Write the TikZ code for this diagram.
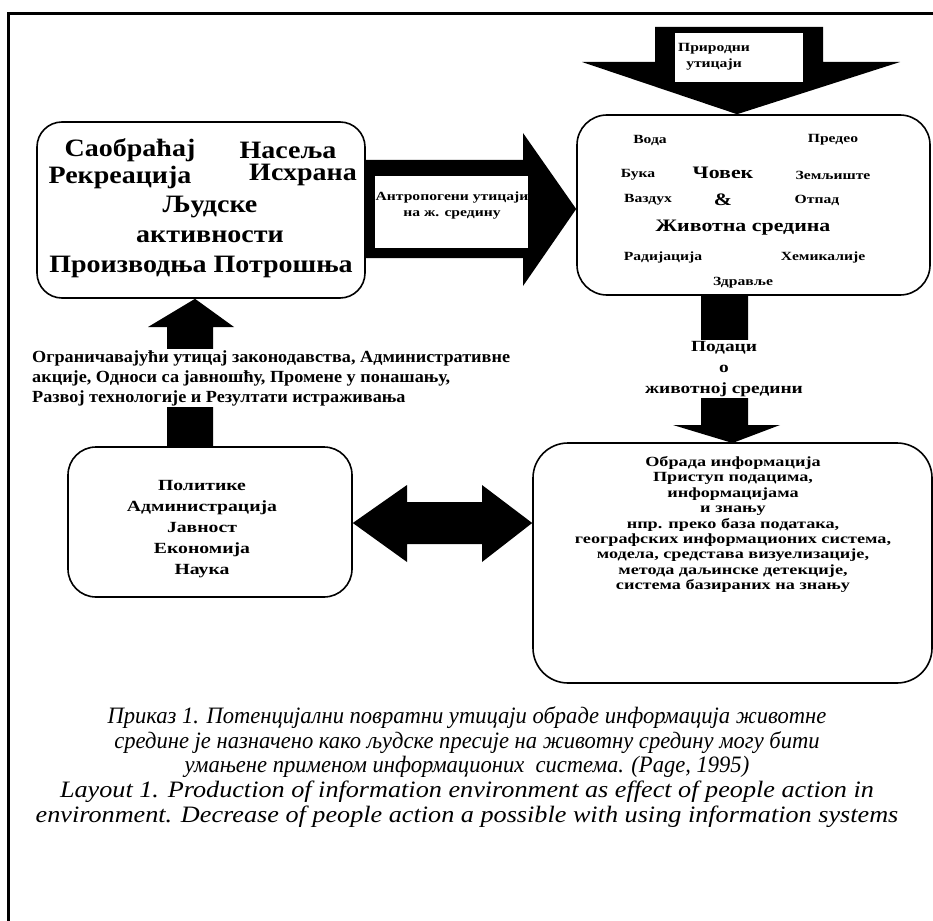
\documentclass[tikz,border=0pt]{standalone}
\usepackage{fontspec}
\setmainfont{Liberation Serif}
\newfontfamily\bigf[FakeStretch=1.12]{Liberation Serif}
\newfontfamily\smf[FakeStretch=1.25]{Liberation Serif}
\newfontfamily\lblf[FakeStretch=1.07]{Liberation Serif}
\newfontfamily\polf[FakeStretch=1.27]{Liberation Serif}
\newfontfamily\inff[FakeStretch=1.3]{Liberation Serif}
\newfontfamily\capf[FakeStretch=1.115]{Liberation Serif}
\newfontfamily\capcf[FakeStretch=0.96]{Liberation Serif}
\usetikzlibrary{calc}
\tikzset{
  box/.style={draw, line width=1.6pt, rounded corners=#1, inner sep=0pt},
  bigt/.style={font=\bigf\bfseries\fontsize{25}{30}\selectfont, inner sep=0pt},
  smt/.style={font=\smf\bfseries\fontsize{12.5}{15}\selectfont, inner sep=0pt},
  midt/.style={font=\smf\bfseries\fontsize{17.5}{20}\selectfont, inner sep=0pt},
  lbl/.style={font=\lblf\bfseries\fontsize{17}{20}\selectfont, inner sep=1pt, fill=white, align=left},
  datat/.style={font=\smf\bfseries\fontsize{15.5}{21}\selectfont, inner sep=1pt, fill=white, align=center},
  polt/.style={font=\polf\bfseries\fontsize{15.5}{21}\selectfont, inner sep=0pt, align=center},
  infot/.style={font=\inff\bfseries\fontsize{14}{15.4}\selectfont, inner sep=0pt, align=center},
  arrt/.style={font=\smf\bfseries\fontsize{12.5}{16}\selectfont, inner sep=0pt, align=center},
  capt/.style={font=\capf\itshape\fontsize{23.5}{24.75}\selectfont, inner sep=0pt, align=center},
  blk/.style={fill=black},
}
\newcommand{\cyrcap}{\capcf\itshape}
\newcommand{\latcap}{\capf\itshape}
\begin{document}
\begin{tikzpicture}[x=1pt,y=-1pt]
\useasboundingbox (0,0) rectangle (933,920);
\fill[white] (0,0) rectangle (933,920);
\clip (0,0) rectangle (933,920);
\draw[line width=3pt] (8,930) -- (8,14) -- (940,14);

% boxes
\node[box=25pt, minimum width=328pt, minimum height=176pt] (act) at (201,210) {};
\node[box=30pt, minimum width=353pt, minimum height=180pt] (env) at (753.5,205) {};
\node[box=35pt, minimum width=399pt, minimum height=240pt] (info) at (732.5,563) {};
\node[box=28pt, minimum width=284pt, minimum height=150pt] (pol) at (210,522) {};

% activities texts
\node[bigt] (a1) at (130,150) {Саобраћај};
\node[bigt] (a2) at (288,150) {Насеља};
\node[bigt] (a3) at (120,177) {Рекреација};
\node[bigt] (a4) at (303,175) {Исхрана};
\node[bigt] (a5) at (210,207) {Људске};
\node[bigt] (a6) at (210,237) {активности};
\node[bigt] (a7) at (201,267) {Производња Потрошња};

% environment texts
\node[smt] (e1) at (650,140) {Вода};
\node[smt] (e2) at (833,140) {Предео};
\node[smt] (e3) at (638,175) {Бука};
\node[midt] (e4) at (723,173) {Човек};
\node[smt] (e5) at (833,175) {Земљиште};
\node[smt] (e6) at (648,200) {Ваздух};
\node[midt] (e7) at (723,200) {\&};
\node[smt] (e8) at (817,200) {Отпад};
\node[midt] (e9) at (743,228) {Животна средина};
\node[smt] (e10) at (663,257) {Радијација};
\node[smt] (e11) at (823,257) {Хемикалије};
\node[smt] (e12) at (743,283) {Здравље};

% natural influences arrow (top)
\fill[blk] (655,27) -- (823,27) -- (823,62) -- (900,62) -- (env.north -| 737,0) -- (582,62) -- (655,62) -- cycle;
\fill[white] (675,33) rectangle (803,82);
\node[arrt] (nat) at (714,57) {Природни\\утицаји};

% anthropogenic arrow
\fill[blk] (act.east |- 0,160) -- (523,160) -- (523,133) -- (env.west |- 0,209) -- (523,286) -- (523,258) -- (act.east |- 0,258) -- cycle;
\fill[white] (375,176) rectangle (528,248);
\node[arrt] (ant) at (452,206) {Антропогени утицаји\\на ж. средину};

% data arrow (down)
\fill[blk] (701,295) -- (748,295) -- (748,425) -- (780,425) -- (info.north |- 0,443) -- (673,425) -- (701,425) -- cycle;
\node[datat] (data) at (724,369) {Подаци\\о\\животној средини};

% policy -> activities arrow (up)
\fill[blk] (167,447) -- (213,447) -- (213,327) -- (234,327) -- (act.south -| 195,0) -- (148,327) -- (167,327) -- cycle;
\node[lbl, anchor=west] (lim) at (31,378) {Ограничавајући утицај законодавства, Административне\\акције, Односи са јавношћу, Промене у понашању,\\Развој технологије и Резултати истраживања};

% policy box text
\node[polt] (pt) at (202,529) {Политике\\Администрација\\Јавност\\Економија\\Наука};

% double arrow
\fill[blk] (pol.east |- 0,523) -- (407,485) -- (407,502) -- (482,502) -- (482,485) -- (info.west |- 0,523) -- (482,562) -- (482,544) -- (407,544) -- (407,562) -- cycle;

% info text
\node[infot] (it) at (733,524.5) {Обрада информација\\Приступ подацима,\\информацијама\\и знању\\нпр. преко база података,\\географских информационих система,\\модела, средстава визуелизације,\\метода даљинске детекције,\\система базираних на знању};

% caption
\node[capt] (cap) at (467,767) {{\cyrcap Приказ 1. Потенцијални повратни утицаји обраде информација животне}\\{\cyrcap средине је назначено како људске пресије на животну средину могу бити}\\{\cyrcap умањене применом информационих\ \ система. (Page, 1995)}\\{\latcap Layout 1. Production of information environment as effect of people action in}\\{\latcap environment. Decrease of people action a possible with using information systems}};
\end{tikzpicture}
\end{document}
